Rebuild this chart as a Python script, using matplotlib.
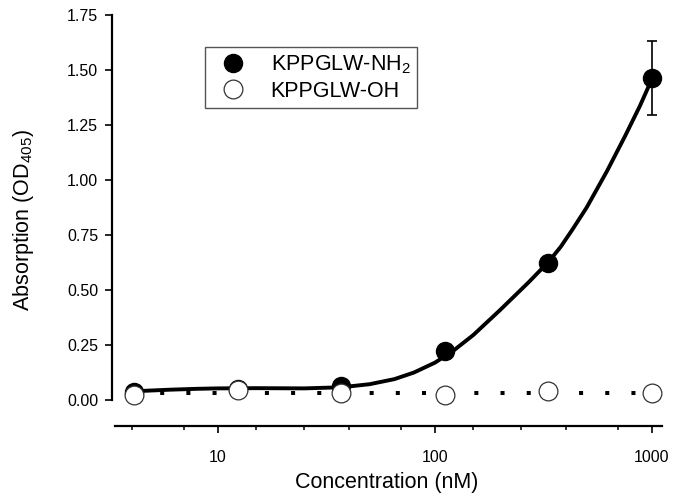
import matplotlib
matplotlib.use("Agg")
import matplotlib.pyplot as plt
from matplotlib.ticker import FixedLocator, NullFormatter, FixedFormatter
from matplotlib.lines import Line2D

plt.rcParams['font.family'] = ['Liberation Sans', 'DejaVu Sans']
plt.rcParams['mathtext.fontset'] = 'custom'
plt.rcParams['mathtext.rm'] = 'Liberation Sans'
plt.rcParams['mathtext.it'] = 'Liberation Sans:italic'
plt.rcParams['mathtext.bf'] = 'Liberation Sans:bold'

# ---- data ----
conc = [4.12, 12.35, 37.04, 111.1, 333.3, 1000]
nh2 = [0.036, 0.048, 0.065, 0.225, 0.625, 1.464]
nh2_err = [0, 0, 0, 0, 0, 0.168]
oh = [0.023, 0.045, 0.032, 0.023, 0.041, 0.032]

fit_x = [4.12, 6, 8, 10, 15, 25, 37, 50, 65, 80, 100, 120, 150, 200, 270, 335,
         380, 430, 500, 620, 750, 880, 1000]
fit_y = [0.040, 0.047, 0.051, 0.053, 0.054, 0.053, 0.058, 0.072, 0.095, 0.125,
         0.170, 0.220, 0.295, 0.410, 0.535, 0.630, 0.697, 0.775, 0.875, 1.040,
         1.198, 1.337, 1.460]

flat_x = [4.12, 1000]
flat_y = [0.031, 0.031]

y_ticks = [0.0, 0.25, 0.5, 0.75, 1.0, 1.25, 1.5, 1.75]
x_major = [10, 100, 1000]
x_major_labels = ['10', '100', '1000']
x_minor = [4, 7, 15, 25, 40, 70, 150, 250, 400, 700]

labels = ['KPPGLW-NH$_2$', 'KPPGLW-OH']
xlabel = 'Concentration (nM)'
ylabel = 'Absorption (OD$_{405}$)'

# ---- figure ----
fig = plt.figure(figsize=(6.83, 4.97), dpi=100)
ax = fig.add_axes([112/683, 1-426/497, (662-112)/683, (426-15)/497])

ax.plot(fit_x, fit_y, color='black', lw=2.8, solid_capstyle='round', zorder=2)
ax.plot(flat_x, flat_y, color='black', lw=2.9, linestyle=(0, (1, 5.5)),
        dash_capstyle='butt', zorder=2)

ax.errorbar(conc, nh2, yerr=nh2_err, fmt='o', color='black', ms=13,
            mec='black', mfc='black', elinewidth=1.2, capsize=3.5, capthick=1.2,
            zorder=3, label=labels[0])
ax.plot(conc, oh, 'o', ms=13.5, mfc='white', mec='#333333', mew=0.9,
        zorder=4, label=labels[1])

ax.set_xscale('log')
ax.set_xlim(3.25, 1112)
ax.set_ylim(-0.118, 1.75)

for s in ['top', 'right']:
    ax.spines[s].set_visible(False)
ax.spines['left'].set_bounds(0, 1.75)
ax.spines['bottom'].set_bounds(3.35, 1112)
for s in ['left', 'bottom']:
    ax.spines[s].set_linewidth(1.6)

ax.xaxis.set_major_locator(FixedLocator(x_major))
ax.xaxis.set_major_formatter(FixedFormatter(x_major_labels))
ax.xaxis.set_minor_locator(FixedLocator(x_minor))
ax.xaxis.set_minor_formatter(NullFormatter())
ax.set_yticks(y_ticks)
ax.set_yticklabels([f'{v:.2f}' for v in y_ticks])

ax.tick_params(axis='both', which='major', direction='out', length=5, width=1.2,
               labelsize=11.5, colors='black')
ax.tick_params(axis='x', which='major', pad=12)
ax.tick_params(axis='y', which='major', pad=5)
ax.tick_params(axis='x', which='minor', direction='out', length=3, width=1.1)

ax.set_xlabel(xlabel, fontsize=15.5, labelpad=5)
ax.set_ylabel(ylabel, fontsize=15.5, labelpad=22)

h1 = Line2D([], [], ls='none', marker='o', ms=13, mfc='black', mec='black')
h2 = Line2D([], [], ls='none', marker='o', ms=13.5, mfc='white', mec='#333333', mew=0.9)
leg = fig.legend([h1, h2], labels, loc='upper left',
                 bbox_to_anchor=(205/683, 1-47/497), fontsize=15.5,
                 frameon=True, fancybox=False, framealpha=1, edgecolor='#555555',
                 borderpad=0.3, handlelength=2.0, handletextpad=0.75,
                 labelspacing=0.22, borderaxespad=0, numpoints=1)
leg.get_frame().set_linewidth(1.0)

fig.savefig('out.png', dpi=100)
